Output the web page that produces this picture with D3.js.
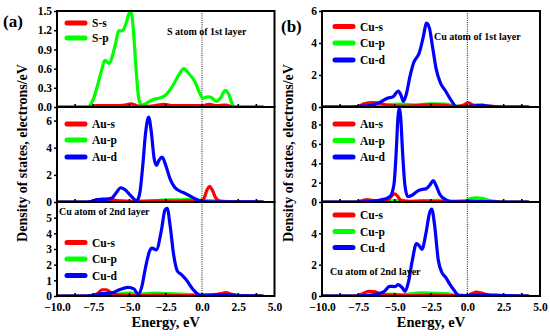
<!DOCTYPE html>
<html><head><meta charset="utf-8">
<script src="https://cdn.jsdelivr.net/npm/d3@7"></script>
<style>body{margin:0;background:#fff}svg{display:block}text{font-family:"Liberation Serif","Times New Roman",serif;font-weight:bold}</style>
</head><body><svg id="c" width="550" height="336"></svg>
<script>
// ---- data (energy eV, DOS electrons/eV) ----
const xTicks = [-10, -7.5, -5, -2.5, 0, 2.5, 5];
const xMinor = [-8.75, -7.5, -5, -2.5, 0, 2.5, 3.75];

// (a) top: S atom of 1st layer
const aS_s = [[-10,0],[-7.7,0],[-7.3,0.02],[-6,0.02],[-5.3,0.03],[-4.9,0.05],[-4.5,0.02],[-4,0.01],[-3.3,0.02],[-2.6,0.04],[-2,0.02],[-1,0.02],[0,0.02],[0.5,0.04],[1,0.02],[1.6,0.03],[2.2,0],[4.2,0]];
const aS_p = [[-10,0],[-7.9,0],[-7.7,0.03],[-7.45,0.15],[-7.25,0.3],[-6.95,0.55],[-6.7,0.73],[-6.4,0.68],[-6.15,0.82],[-5.95,1.0],[-5.75,1.19],[-5.5,1.19],[-5.25,1.3],[-5.05,1.45],[-4.9,1.5],[-4.75,1.25],[-4.55,0.6],[-4.35,0.12],[-4.15,0.03],[-3.9,0.05],[-3.6,0.09],[-3.3,0.12],[-2.9,0.14],[-2.6,0.17],[-2.3,0.24],[-2.0,0.34],[-1.6,0.5],[-1.25,0.6],[-0.9,0.52],[-0.5,0.4],[-0.2,0.24],[0.05,0.14],[0.4,0.16],[0.7,0.14],[1.0,0.09],[1.3,0.15],[1.6,0.26],[1.85,0.2],[2.1,0.04],[2.3,0],[4.2,0]];
// (a) middle: Au
const aAu_s = [[-10,0],[-7.8,0],[-7.3,0.15],[-6.7,0.22],[-6.3,0.2],[-5.8,0.08],[-5,0.03],[-4,0.05],[-3,0.08],[-2,0.06],[-1,0.08],[-0.3,0.05],[0.1,0.2],[0.35,0.9],[0.52,1.15],[0.7,0.9],[0.95,0.3],[1.3,0.05],[2,0.02],[4.2,0]];
const aAu_p = [[-10,0],[-7.5,0],[-6.5,0.05],[-5.5,0.1],[-4.5,0.05],[-3.5,0.08],[-2.5,0.15],[-1.5,0.15],[-0.7,0.22],[0,0.12],[0.5,0.1],[1.5,0.05],[2.5,0],[4.2,0]];
const aAu_d = [[-10,0],[-8,0],[-7.6,0.05],[-7.2,0.18],[-6.6,0.2],[-6.2,0.3],[-5.9,0.7],[-5.6,1.05],[-5.3,0.9],[-4.9,0.45],[-4.5,0.1],[-4.3,0.6],[-4.1,2.5],[-3.9,5.0],[-3.68,6.25],[-3.5,5.2],[-3.3,3.2],[-3.15,2.7],[-2.95,3.1],[-2.75,3.3],[-2.5,2.7],[-2.2,1.7],[-1.9,1.1],[-1.6,0.85],[-1.1,0.6],[-0.6,0.3],[0,0.05],[0.5,0.02],[4.2,0]];
// (a) bottom: Cu atom of 2nd layer
const aCu_s = [[-10,0],[-7.7,0],[-7.2,0.15],[-6.9,0.4],[-6.6,0.4],[-6.2,0.15],[-5.5,0.05],[-4.5,0.03],[-3,0.05],[-1,0.03],[0.5,0.05],[1.3,0.15],[1.65,0.22],[2,0.12],[2.5,0.03],[4.2,0]];
const aCu_p = [[-10,0],[-7,0],[-6.2,0.05],[-5.5,0.15],[-5,0.2],[-4.5,0.12],[-3.8,0.15],[-3.3,0.18],[-2.5,0.15],[-1.5,0.12],[-0.5,0.08],[0,0.02],[1.5,0.1],[2.2,0.03],[4.2,0]];
const aCu_d = [[-10,0],[-8,0],[-7.5,0.05],[-6.9,0.15],[-6.2,0.2],[-5.7,0.4],[-5.1,0.55],[-4.7,0.45],[-4.4,0.12],[-4.15,0.6],[-3.9,1.8],[-3.6,2.9],[-3.45,3.05],[-3.15,2.95],[-2.8,4.2],[-2.55,5.5],[-2.4,5.6],[-2.2,4.5],[-1.95,2.6],[-1.7,1.6],[-1.4,1.35],[-1.1,1.05],[-0.6,0.4],[-0.1,0.05],[0.5,0.05],[1.5,0.08],[2.5,0.03],[4.2,0]];
// (b) top: Cu atom of 1st layer
const bCu1_s = [[-10,0],[-7.6,0],[-7.1,0.2],[-6.5,0.27],[-6,0.22],[-5.5,0.1],[-4.5,0.05],[-3.5,0.1],[-2.5,0.15],[-1.5,0.1],[-0.8,0.03],[-0.2,0.15],[0.05,0.28],[0.4,0.12],[1,0.08],[1.8,0.03],[2.3,0],[4.2,0]];
const bCu1_p = [[-10,0],[-7.2,0],[-6.5,0.05],[-5.5,0.15],[-4.5,0.18],[-3.5,0.12],[-2.5,0.2],[-1.5,0.18],[-0.8,0.05],[0,0.02],[1,0.05],[2,0],[4.2,0]];
const bCu1_d = [[-10,0],[-8,0],[-7.3,0.05],[-6.5,0.12],[-6,0.3],[-5.5,0.55],[-5.1,0.65],[-4.75,1.0],[-4.55,0.7],[-4.4,0.35],[-4.2,0.8],[-3.95,1.9],[-3.7,2.75],[-3.3,3.4],[-3.05,4.3],[-2.8,5.25],[-2.6,4.9],[-2.4,3.8],[-2.15,2.4],[-1.85,1.5],[-1.5,1.0],[-1.1,0.4],[-0.75,0.03],[-0.3,0.02],[0.5,0.08],[1.0,0.12],[1.5,0.05],[2.2,0],[4.2,0]];
// (b) middle: Au
const bAu_s = [[-10,0],[-7.7,0],[-7.2,0.15],[-6.9,0.25],[-6.5,0.15],[-6,0.1],[-5.5,0.2],[-5.15,0.7],[-5.0,0.85],[-4.8,0.6],[-4.6,0.2],[-4,0.05],[-3,0.08],[-2,0.06],[-1,0.05],[0,0.1],[0.5,0.08],[1.5,0.05],[2.5,0],[4.2,0]];
const bAu_p = [[-10,0],[-7,0],[-6,0.05],[-5,0.12],[-4,0.1],[-3,0.15],[-2,0.18],[-1,0.08],[-0.2,0.1],[0.2,0.35],[0.6,0.42],[1.0,0.38],[1.4,0.2],[2,0.05],[2.6,0],[4.2,0]];
const bAu_d = [[-10,0],[-7.5,0],[-6.8,0.05],[-6.2,0.15],[-5.7,0.3],[-5.3,0.6],[-5.05,1.8],[-4.9,5],[-4.77,8.8],[-4.68,9.7],[-4.59,8.8],[-4.45,5],[-4.3,1.8],[-4.1,0.55],[-3.8,0.7],[-3.4,1.15],[-3.1,1.3],[-2.85,1.35],[-2.6,1.7],[-2.35,2.2],[-2.15,1.7],[-1.9,0.8],[-1.5,0.25],[-1.1,0.05],[-0.5,0.02],[0.5,0.05],[1.5,0.05],[2.5,0],[4.2,0]];
// (b) bottom: Cu atom of 2nd layer
const bCu2_s = [[-10,0],[-7.7,0],[-7.2,0.15],[-6.8,0.3],[-6.4,0.28],[-5.9,0.1],[-5,0.05],[-4,0.03],[-2.5,0.05],[-1,0.03],[0,0.03],[0.3,0.15],[0.65,0.25],[1,0.18],[1.6,0.03],[2.3,0],[4.2,0]];
const bCu2_p = [[-10,0],[-7,0],[-6,0.05],[-5.3,0.12],[-4.5,0.08],[-3.8,0.15],[-3.2,0.2],[-2.5,0.18],[-1.5,0.15],[-0.7,0.05],[0,0.02],[1,0.05],[2,0],[4.2,0]];
const bCu2_d = [[-10,0],[-7.5,0],[-6.8,0.05],[-6.2,0.12],[-5.7,0.3],[-5.35,0.62],[-5.0,0.6],[-4.75,0.72],[-4.5,0.55],[-4.28,0.3],[-4.05,0.9],[-3.8,2.2],[-3.5,3.35],[-3.3,3.2],[-3.12,2.98],[-2.85,4.0],[-2.6,5.3],[-2.45,5.55],[-2.25,4.5],[-2.0,2.3],[-1.75,1.5],[-1.5,1.2],[-1.2,0.75],[-0.9,0.35],[-0.6,0.05],[0,0.02],[0.5,0.05],[1.2,0.08],[2,0.05],[2.8,0.02],[4.2,0]];

const legS = ["S-s","S-p"];
const legAu = ["Au-s","Au-p","Au-d"];
const legCu = ["Cu-s","Cu-p","Cu-d"];
const colors = ["#ff0000","#00ff00","#0000ff"];

const yTicks_aTop = [0,0.3,0.6,0.9,1.2,1.5];
const yTicks_aMid = [0,2,4,6];
const yTicks_aBot = [0,1,2,3,4,5];
const yTicks_bTop = [0,2,4,6];
const yTicks_bMid = [0,2,4,6,8];
const yTicks_bBot = [0,2,4];

// ---- layout ----
const cols = [{x0:57,x1:274.5},{x0:322,x1:540}];
const rows = [{y0:11,y1:107},{y0:107,y1:202},{y0:202,y1:296}];

const panels = [
 {c:0,r:0,dom:[0,1.5],ticks:yTicks_aTop,fmt:d3.format(".1f"),series:[aS_s,aS_p],names:legS,
  legX:65,legY:[23,38],note:{t:"S atom of 1st layer",x:167,y:35}},
 {c:0,r:1,dom:[0,7],ticks:yTicks_aMid,fmt:d3.format("d"),series:[aAu_s,aAu_p,aAu_d],names:legAu,
  legX:65,legY:[124,140,157]},
 {c:0,r:2,dom:[0,6],ticks:yTicks_aBot,fmt:d3.format("d"),series:[aCu_s,aCu_p,aCu_d],names:legCu,
  legX:65,legY:[242.5,259,275.5],note:{t:"Cu atom of 2nd layer",x:59,y:215}},
 {c:1,r:0,dom:[0,6],ticks:yTicks_bTop,fmt:d3.format("d"),series:[bCu1_s,bCu1_p,bCu1_d],names:legCu,
  legX:333,legY:[26.5,43,60],note:{t:"Cu atom of 1st layer",x:434,y:40}},
 {c:1,r:1,dom:[0,9.8],ticks:yTicks_bMid,fmt:d3.format("d"),series:[bAu_s,bAu_p,bAu_d],names:legAu,
  legX:333,legY:[124,140.5,157]},
 {c:1,r:2,dom:[0,6],ticks:yTicks_bBot,fmt:d3.format("d"),series:[bCu2_s,bCu2_p,bCu2_d],names:legCu,
  legX:333,legY:[215,231.5,247.5],note:{t:"Cu atom of 2nd layer",x:330,y:275}}
];

const svg = d3.select("#c");
const drawOrder = [1,0,2];

panels.forEach(p=>{
  const col = cols[p.c], row = rows[p.r];
  const x = d3.scaleLinear().domain([-10,5]).range([col.x0,col.x1]);
  const y = d3.scaleLinear().domain(p.dom).range([row.y1,row.y0]);
  const g = svg.append("g");
  const clipId = "clip"+p.c+p.r;
  svg.append("clipPath").attr("id",clipId).append("rect")
    .attr("x",col.x0).attr("y",row.y0-2).attr("width",col.x1-col.x0).attr("height",row.y1-row.y0+2);

  // zero dotted line
  g.append("line").attr("x1",x(0)).attr("x2",x(0)).attr("y1",row.y0).attr("y2",row.y1)
    .attr("stroke","#000").attr("stroke-width",0.9).attr("stroke-dasharray","1,1.2");

  const line = d3.line().x(d=>x(d[0])).y(d=>y(d[1])).curve(d3.curveMonotoneX);
  const lg = g.append("g").attr("clip-path",`url(#${clipId})`);
  drawOrder.forEach(i=>{
    if(!p.series[i]) return;
    lg.append("path").attr("d",line(p.series[i])).attr("fill","none")
      .attr("stroke",colors[i]).attr("stroke-width",3.2).attr("stroke-linejoin","round").attr("stroke-linecap","round");
  });

  // inner x tick marks
  xMinor.forEach(v=>{
    g.append("line").attr("x1",x(v)).attr("x2",x(v)).attr("y1",row.y1).attr("y2",row.y1-3)
      .attr("stroke","#000").attr("stroke-width",1.6);
  });

  // y axis
  const ya = g.append("g").attr("transform",`translate(${col.x0},0)`)
    .call(d3.axisLeft(y).tickValues(p.ticks).tickFormat(p.fmt).tickSize(3).tickPadding(2));
  ya.select(".domain").remove();
  ya.selectAll("line").attr("stroke-width",1.5);
  ya.selectAll("text").attr("font-size",11.5).attr("font-family","Liberation Serif").attr("font-weight","bold").attr("fill","#000");

  // x axis labels on bottom row
  if(p.r===2){
    const xa = g.append("g").attr("transform",`translate(0,${row.y1})`)
      .call(d3.axisBottom(x).tickValues(xTicks).tickFormat(d3.format(".1f")).tickSize(0).tickPadding(7));
    xa.select(".domain").remove();
    xa.selectAll("text").attr("font-size",11.5).attr("font-family","Liberation Serif").attr("font-weight","bold").attr("fill","#000");
  }

  // frame
  g.append("rect").attr("x",col.x0).attr("y",row.y0).attr("width",col.x1-col.x0).attr("height",row.y1-row.y0)
    .attr("fill","none").attr("stroke","#000").attr("stroke-width",2);

  // legend
  p.names.forEach((n,i)=>{
    g.append("line").attr("x1",p.legX+2).attr("x2",p.legX+20).attr("y1",p.legY[i]).attr("y2",p.legY[i])
      .attr("stroke",colors[i]).attr("stroke-width",5).attr("stroke-linecap","round");
    g.append("text").attr("x",p.legX+27).attr("y",p.legY[i]).attr("dy","0.35em")
      .attr("font-size",11.5).text(n);
  });
  if(p.note){
    g.append("text").attr("x",p.note.x).attr("y",p.note.y).attr("font-size",10).text(p.note.t);
  }
});

// axis titles
[0,1].forEach(c=>{
  const col = cols[c];
  svg.append("text").attr("x",(col.x0+col.x1)/2).attr("y",327).attr("text-anchor","middle")
    .attr("font-size",14.5).text("Energy, eV");
});
svg.append("text").attr("transform","translate(27,153) rotate(-90)").attr("text-anchor","middle")
  .attr("font-size",14).text("Density of states, electrons/eV");
svg.append("text").attr("transform","translate(293,153) rotate(-90)").attr("text-anchor","middle")
  .attr("font-size",14).text("Density of states, electrons/eV");
svg.append("text").attr("x",3).attr("y",27).attr("font-size",17).text("(a)");
svg.append("text").attr("x",281).attr("y",32).attr("font-size",17).text("(b)");
</script></body></html>
